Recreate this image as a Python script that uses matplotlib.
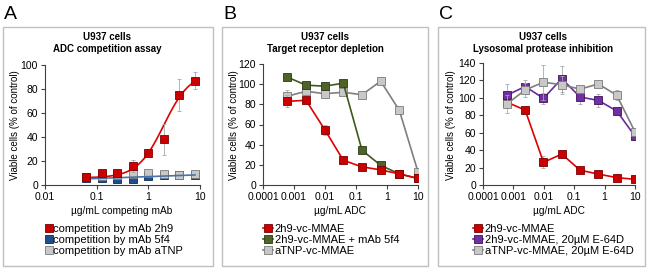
import numpy as np
import matplotlib
matplotlib.use("Agg")
import matplotlib.pyplot as plt
from matplotlib.patches import Rectangle
from matplotlib.lines import Line2D
from matplotlib.ticker import FixedLocator, FixedFormatter, NullLocator

plt.rcParams['font.family'] = ['Liberation Sans', 'DejaVu Sans']

# ---------------- data ----------------
conc_a = [0.0625, 0.125, 0.25, 0.5, 1, 2, 4, 8]
a_2h9 = [7, 10, 10, 16, 27, 38, 75, 87]
a_2h9_err = [1, 1.5, 1, 5, 2, 13, 13, 7]
a_5f4 = [6, 6, 5, 5, 7.5, 8, 8, 8.5]
a_5f4_err = [1, 1, 1, 1, 1, 1, 1, 1]
a_atnp = [7, 7.5, 8.5, 9, 10, 9.5, 8, 9]
a_atnp_err = [1, 1, 1, 1, 1, 1, 1, 1]
# 4PL fit parameters of the 2h9 curve (bottom, top, EC50, hill)
fit_2h9 = (6.0, 94.0, 2.0, 1.7)

conc_bc = [0.00061, 0.00244, 0.00977, 0.039, 0.156, 0.625, 2.5, 10]
b_2h9 = [83, 84, 55, 24.5, 18, 15, 11, 6.5]
b_2h9_err = [6, 2, 5, 2, 1, 1, 1, 1]
b_2h9_5f4 = [107, 99, 98, 101, 34.5, 19.5, 11, 6.5]
b_2h9_5f4_err = [1, 2, 2, 2, 1, 1, 1, 1]
b_atnp = [88, 93, 90.5, 92, 89.5, 103, 74, 13]
b_atnp_err = [6, 3, 2, 2, 1, 1, 1, 1]

c_2h9 = [95, 86, 26, 35.5, 17, 12.5, 8.5, 6.5]
c_2h9_err = [3, 2, 7, 2, 2, 1, 1, 1]
c_2h9_e64 = [103, 113, 99.5, 122, 101, 97, 85, 56]
c_2h9_e64_err = [13, 7, 6, 15, 8, 8, 2, 4]
c_atnp_e64 = [93, 109, 118, 115, 110, 116, 103, 61]
c_atnp_e64_err = [10, 8, 20, 10, 4, 3, 6, 3]

labels_a = ["competition by mAb 2h9", "competition by mAb 5f4", "competition by mAb aTNP"]
labels_b = ["2h9-vc-MMAE", "2h9-vc-MMAE + mAb 5f4", "aTNP-vc-MMAE"]
labels_c = ["2h9-vc-MMAE", "2h9-vc-MMAE, 20\u00b5M E-64D", "aTNP-vc-MMAE, 20\u00b5M E-64D"]

# ---------------- style ----------------
W, H = 650, 269
RED_F, RED_E, RED_L = "#CC0000", "#7A0000", "#E00000"
BLU_F, BLU_E, BLU_L = "#1F4E8C", "#0F2A50", "#4A72A8"
GRY_F, GRY_E, GRY_L = "#C8C8C8", "#7A7A7A", "#7F7F7F"
GRN_F, GRN_E, GRN_L = "#4F6228", "#2A3A12", "#3E5A1A"
PUR_F, PUR_E, PUR_L = "#7030A0", "#3A1060", "#6A2A9A"
MS = 5.3
FS = 7
LFS = 8

fig = plt.figure(figsize=(6.5, 2.69), dpi=100)


def fx(px):
    return px / W


def fy(py):
    return 1 - py / H


def make_ax(left, right, top, bottom):
    return fig.add_axes([fx(left), fy(bottom), fx(right - left), (bottom - top) / H])


def style_ax(ax, xlim, ylim, ystep, xticks, xticklabels):
    ax.set_xscale('log')
    ax.set_xlim(*xlim)
    ax.set_ylim(*ylim)
    ax.xaxis.set_major_locator(FixedLocator(xticks))
    ax.xaxis.set_major_formatter(FixedFormatter(xticklabels))
    ax.xaxis.set_minor_locator(NullLocator())
    ax.set_yticks(np.arange(ylim[0], ylim[1] + 0.1, ystep))
    for s in ['top', 'right']:
        ax.spines[s].set_visible(False)
    for s in ['left', 'bottom']:
        ax.spines[s].set_color('#404040')
        ax.spines[s].set_linewidth(0.8)
    ax.tick_params(axis='both', labelsize=7.5, length=3, width=0.8, color='#404040', pad=2)


def series(ax, x, y, err, fc, ec, lc, line=True, z=3):
    ax.errorbar(x, y, yerr=err, fmt='none', ecolor='#A8A8A8', elinewidth=0.6,
                capsize=1.2, capthick=0.6, zorder=z - 1)
    ax.plot(x, y, linestyle='-' if line else 'none', color=lc, lw=1.2,
            marker='s', ms=MS, mfc=fc, mec=ec, mew=0.6, zorder=z)


# boxes
for (l, t, r, b) in [(2.5, 27, 213, 266), (222, 27, 428, 265.5), (438, 27, 645, 266)]:
    fig.patches.append(Rectangle((fx(l), fy(b)), fx(r - l), (b - t) / H,
                                 transform=fig.transFigure, fill=False,
                                 edgecolor='#BFBFBF', lw=1.0))

# ---------------- panel A ----------------
axA = make_ax(45, 200, 65, 185)
style_ax(axA, (0.01, 10), (0, 100), 20, [0.01, 0.1, 1, 10], ['0.01', '0.1', '1', '10'])
xs = np.logspace(np.log10(conc_a[0]), np.log10(conc_a[-1]), 200)
bot, top, ec50, hill = fit_2h9
axA.plot(xs, bot + (top - bot) / (1 + (ec50 / xs) ** hill), color=RED_L, lw=1.2, zorder=4)
coef = np.polyfit(np.log10(conc_a), a_5f4, 1)
axA.plot(xs, np.polyval(coef, np.log10(xs)), color=BLU_L, lw=1.2, zorder=4)
series(axA, conc_a, a_5f4, a_5f4_err, BLU_F, BLU_E, BLU_L, line=False, z=3)
series(axA, conc_a, a_atnp, a_atnp_err, GRY_F, GRY_E, GRY_L, line=False, z=3)
series(axA, conc_a, a_2h9, a_2h9_err, RED_F, RED_E, RED_L, line=False, z=5)

# ---------------- panel B ----------------
axB = make_ax(263, 418, 64, 185)
style_ax(axB, (0.0001, 10), (0, 120), 20, [0.0001, 0.001, 0.01, 0.1, 1, 10],
         ['0.0001', '0.001', '0.01', '0.1', '1', '10'])
series(axB, conc_bc, b_atnp, b_atnp_err, GRY_F, GRY_E, GRY_L, z=3)
series(axB, conc_bc, b_2h9_5f4, b_2h9_5f4_err, GRN_F, GRN_E, GRN_L, z=4)
series(axB, conc_bc, b_2h9, b_2h9_err, RED_F, RED_E, RED_L, z=5)

# ---------------- panel C ----------------
axC = make_ax(483, 635, 63, 185)
style_ax(axC, (0.0001, 10), (0, 140), 20, [0.0001, 0.001, 0.01, 0.1, 1, 10],
         ['0.0001', '0.001', '0.01', '0.1', '1', '10'])
series(axC, conc_bc, c_2h9, c_2h9_err, RED_F, RED_E, RED_L, z=3)
series(axC, conc_bc, c_2h9_e64, c_2h9_e64_err, PUR_F, PUR_E, PUR_L, z=4)
series(axC, conc_bc, c_atnp_e64, c_atnp_e64_err, GRY_F, GRY_E, GRY_L, z=5)

# ---------------- texts ----------------
for letter, x in [('A', 4), ('B', 223), ('C', 439)]:
    fig.text(fx(x), fy(19), letter, fontsize=14, ha='left', va='baseline')

titles = [(107, "ADC competition assay"), (325, "Target receptor depletion"),
          (543, "Lysosomal protease inhibition")]
for x, t in titles:
    fig.text(fx(x), fy(37), "U937 cells", fontsize=FS, fontweight='bold', ha='center', va='center')
    fig.text(fx(x), fy(49), t, fontsize=FS, fontweight='bold', ha='center', va='center')

for x in [15, 234, 451]:
    fig.text(fx(x), fy(125), "Viable cells (% of control)", fontsize=FS, rotation=90,
             ha='center', va='center')

fig.text(fx(122), fy(211), "\u00b5g/mL competing mAb", fontsize=7.3, ha='center', va='center')
fig.text(fx(340), fy(211), "\u00b5g/mL ADC", fontsize=7.3, ha='center', va='center')
fig.text(fx(559), fy(211), "\u00b5g/mL ADC", fontsize=7.3, ha='center', va='center')


def legend(x_left, labels, styles, with_line):
    handles = []
    for fc, ec, lc in styles:
        handles.append(Line2D([], [], linestyle='-' if with_line else 'none', color=lc, lw=1.2,
                              marker='s', ms=MS, mfc=fc, mec=ec, mew=0.6))
    fig.legend(handles, labels, loc='upper left', bbox_to_anchor=(fx(x_left), fy(223.5)),
               frameon=False, fontsize=LFS, handlelength=0.9 if with_line else 0.5,
               handletextpad=0.15, labelspacing=0.12, borderpad=0, borderaxespad=0)


legend(46, labels_a, [(RED_F, RED_E, RED_L), (BLU_F, BLU_E, BLU_L), (GRY_F, GRY_E, GRY_L)], False)
legend(263, labels_b, [(RED_F, RED_E, RED_L), (GRN_F, GRN_E, GRN_L), (GRY_F, GRY_E, GRY_L)], True)
legend(473, labels_c, [(RED_F, RED_E, RED_L), (PUR_F, PUR_E, PUR_L), (GRY_F, GRY_E, GRY_L)], True)

fig.savefig("out.png", dpi=100)
